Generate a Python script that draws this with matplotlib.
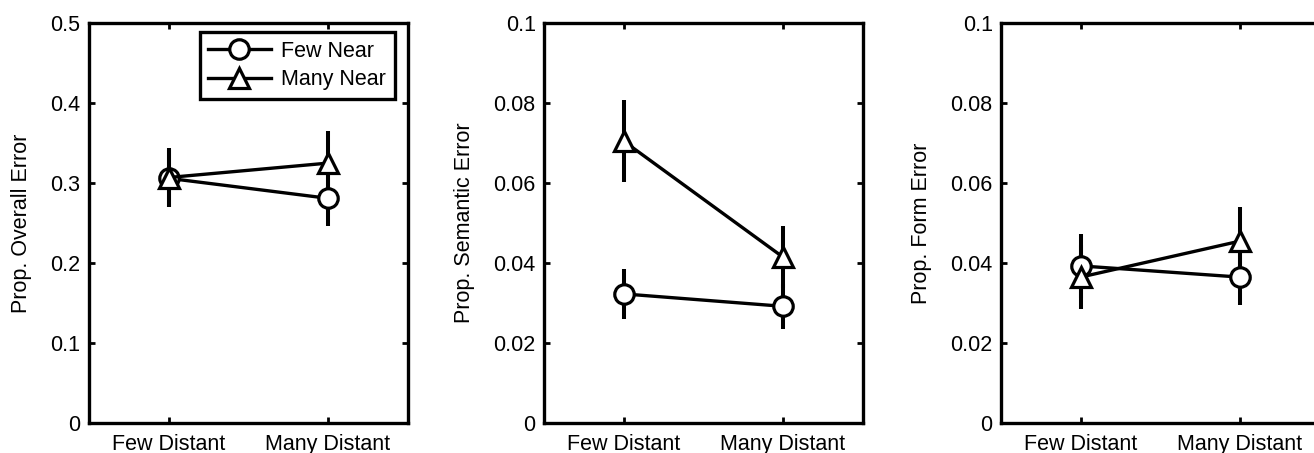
import matplotlib
matplotlib.use("Agg")
from matplotlib import pyplot

pyplot.rcParams['font.family'] = ['Liberation Sans', 'DejaVu Sans']

conditions = ["Few Distant", "Many Distant"]
xpos = [1, 2]

# panel 1: overall error
overall_few = [0.306, 0.281]
overall_few_err = [0.036, 0.034]
overall_many = [0.307, 0.325]
overall_many_err = [0.037, 0.040]

# panel 2: semantic error
semantic_few = [0.0323, 0.0292]
semantic_few_err = [0.0062, 0.0056]
semantic_many = [0.0705, 0.0415]
semantic_many_err = [0.0102, 0.0077]

# panel 3: form error
form_few = [0.0393, 0.0365]
form_few_err = [0.0080, 0.0070]
form_many = [0.0365, 0.0455]
form_many_err = [0.0080, 0.0085]

panels = [
    ("Prop. Overall Error", overall_few, overall_few_err, overall_many, overall_many_err,
     0.5, [0, 0.1, 0.2, 0.3, 0.4, 0.5], ["0", "0.1", "0.2", "0.3", "0.4", "0.5"]),
    ("Prop. Semantic Error", semantic_few, semantic_few_err, semantic_many, semantic_many_err,
     0.1, [0, 0.02, 0.04, 0.06, 0.08, 0.1], ["0", "0.02", "0.04", "0.06", "0.08", "0.1"]),
    ("Prop. Form Error", form_few, form_few_err, form_many, form_many_err,
     0.1, [0, 0.02, 0.04, 0.06, 0.08, 0.1], ["0", "0.02", "0.04", "0.06", "0.08", "0.1"]),
]

fs = 15.5
lefts = [0.0677, 0.414, 0.7618]
fig = pyplot.figure(figsize=(13.14, 4.53), dpi=100)

for i, (ylab, few, few_err, many, many_err, ymax, yt, ytl) in enumerate(panels):
    ax = fig.add_axes([lefts[i], 0.066, 0.2425, 0.883])
    ax.errorbar(xpos, few, yerr=few_err, color='black', lw=2.4, elinewidth=2.9,
                marker='o', ms=14, mfc='white', mec='black', mew=2.3, capsize=0,
                label="Few Near")
    ax.errorbar(xpos, many, yerr=many_err, color='black', lw=2.4, elinewidth=2.9,
                marker='^', ms=14, mfc='white', mec='black', mew=2.3, capsize=0,
                label="Many Near")
    ax.set_xlim(0.5, 2.5)
    ax.set_ylim(0, ymax)
    ax.set_xticks(xpos)
    ax.set_xticklabels(conditions, fontsize=fs)
    ax.set_yticks(yt)
    ax.set_yticklabels(ytl, fontsize=fs)
    ax.set_ylabel(ylab, fontsize=fs, labelpad=13)
    ax.tick_params(direction='in', length=4, width=2, top=True, right=True, pad=6)
    ax.tick_params(axis='x', pad=8)
    for sp in ax.spines.values():
        sp.set_linewidth(2.4)
    if i == 0:
        handles, labels = ax.get_legend_handles_labels()
        handles = [h[0] for h in handles]
        leg = ax.legend(handles, labels, loc='upper right', fontsize=fs,
                        handlelength=2.9, fancybox=False, framealpha=1,
                        edgecolor='black', borderpad=0.4, labelspacing=0.35,
                        handletextpad=0.5, borderaxespad=0,
                        bbox_to_anchor=(0.96, 0.977))
        leg.get_frame().set_linewidth(2.4)

pyplot.savefig("out.png", dpi=100)
